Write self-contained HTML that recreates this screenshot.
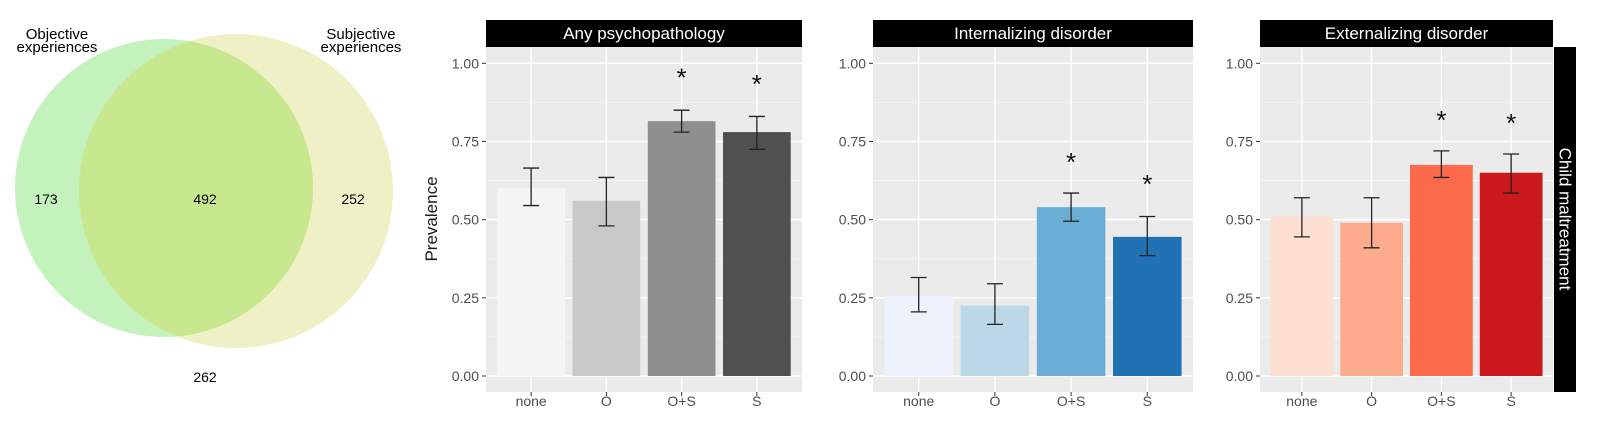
<!DOCTYPE html>
<html><head><meta charset="utf-8"><style>
html,body{margin:0;padding:0;background:#fff;}
svg{display:block;font-family:"Liberation Sans",sans-serif;}
</style></head><body>
<svg id="fig" width="1600" height="437" viewBox="0 0 1600 437">
<g>
  <circle cx="164" cy="188" r="149" fill="#b8f0b0" opacity="0.85"/>
  <circle cx="236" cy="191" r="157" fill="#e6e6a0" opacity="0.6"/>
  <clipPath id="cl"><circle cx="164" cy="188" r="149"/></clipPath>
  <circle cx="236" cy="191" r="157" fill="#c8e890" clip-path="url(#cl)"/>
  <text x="57" y="39" font-size="15" text-anchor="middle">Objective</text>
  <text x="57" y="52" font-size="15" text-anchor="middle">experiences</text>
  <text x="361" y="39" font-size="15" text-anchor="middle">Subjective</text>
  <text x="361" y="52" font-size="15" text-anchor="middle">experiences</text>
  <text x="46" y="204" font-size="14" text-anchor="middle">173</text>
  <text x="205" y="204" font-size="14" text-anchor="middle">492</text>
  <text x="353" y="204" font-size="14" text-anchor="middle">252</text>
  <text x="205" y="382" font-size="14" text-anchor="middle">262</text>
</g>
<g id="panels"></g>
<rect x="1554" y="47" width="22" height="345" fill="#000"/>
<text transform="translate(1565,219) rotate(90)" font-size="17" fill="#fff" text-anchor="middle" dominant-baseline="central">Child maltreatment</text>
<text transform="translate(437,219) rotate(-90)" font-size="17" fill="#1a1a1a" text-anchor="middle">Prevalence</text>
</svg>
<script>
const categories = ["none","O","O+S","S"];
const panelTitles = ["Any psychopathology","Internalizing disorder","Externalizing disorder"];
const anyValues = [0.60,0.56,0.815,0.78];
const anyLow = [0.545,0.48,0.78,0.725];
const anyHigh = [0.665,0.635,0.85,0.83];
const anyStars = [null,null,0.97,0.95];
const intValues = [0.255,0.225,0.54,0.445];
const intLow = [0.205,0.165,0.495,0.385];
const intHigh = [0.315,0.295,0.585,0.51];
const intStars = [null,null,0.70,0.63];
const extValues = [0.51,0.49,0.675,0.65];
const extLow = [0.445,0.41,0.635,0.585];
const extHigh = [0.57,0.57,0.72,0.71];
const extStars = [null,null,0.835,0.825];
const yTicks = [0,0.25,0.5,0.75,1];
const yTickLabels = ["0.00","0.25","0.50","0.75","1.00"];

const NS="http://www.w3.org/2000/svg";
const g=document.getElementById('panels');
function mk(tag,attrs,parent){const e=document.createElementNS(NS,tag);for(const k in attrs)e.setAttribute(k,attrs[k]);(parent||g).appendChild(e);return e;}
const layout=[{x0:486,x1:802,colors:["#f5f5f5","#c9c9c9","#8f8f8f","#505050"]},
{x0:873,x1:1193,colors:["#eef2fd","#bcd8e8","#6aaed6","#2171b5"]},
{x0:1260,x1:1553,colors:["#fee0d2","#fcac8c","#fb6a4a","#cb181d"]}];
const sets=[[anyValues,anyLow,anyHigh,anyStars],[intValues,intLow,intHigh,intStars],[extValues,extLow,extHigh,extStars]];
const yTop=47,yBot=392;
function yS(v){return 376-v*312.7;}
layout.forEach((L,p)=>{
  const pg=mk('g',{});
  
  
  const w=L.x1-L.x0;
  const step=w/(categories.length+0.2);
  function xS(i){return L.x0+step*(0.6+i);}
  const bg=mk('rect',{x:L.x0,y:yTop,width:w,height:yBot-yTop,fill:'#ebebeb'},pg);
  
  
  for(let i=0;i<yTicks.length-1;i++){const m=(yTicks[i]+yTicks[i+1])/2;
    const ml=mk('line',{x1:L.x0,x2:L.x1,y1:yS(m),y2:yS(m),stroke:'#f5f5f5','stroke-width':0.8},pg);
    
    }
  yTicks.forEach((t,i)=>{
    const gl=mk('line',{x1:L.x0,x2:L.x1,y1:yS(t),y2:yS(t),stroke:'#fff','stroke-width':1.5},pg);
    
    
    const tk=mk('line',{x1:L.x0-4,x2:L.x0,y1:yS(t),y2:yS(t),stroke:'#333','stroke-width':1},pg);
    
    
    const tl=mk('text',{x:L.x0-7,y:yS(t)+5,'font-size':14,fill:'#4d4d4d','text-anchor':'end'},pg);
    tl.textContent=yTickLabels[i];
    
    
  });
  const [vals,lo,hi,st]=sets[p];
  categories.forEach((c,i)=>{
    const cx=xS(i);
    const vg=mk('line',{x1:cx,x2:cx,y1:yTop,y2:yBot,stroke:'#fff','stroke-width':1.5},pg);
    
    
  });
  categories.forEach((c,i)=>{
    const cx=xS(i),bw=step*0.9;
    const b=mk('rect',{x:cx-bw/2,y:yS(vals[i]),width:bw,height:yS(0)-yS(vals[i]),fill:L.colors[i]},pg);
    
    
    const e=mk('path',{d:`M${cx-8},${yS(hi[i])}H${cx+8}M${cx},${yS(hi[i])}V${yS(lo[i])}M${cx-8},${yS(lo[i])}H${cx+8}`,stroke:'#222','stroke-width':1.3,fill:'none'},pg);
    
    
    if(st[i]!=null){const s=mk('text',{x:cx,y:yS(st[i])+14,'font-size':26,'text-anchor':'middle',fill:'#111'},pg);
      s.textContent='*';
      
      }
    const xt=mk('line',{x1:cx,x2:cx,y1:yBot,y2:yBot+4,stroke:'#333'},pg);
    
    
    const xl=mk('text',{x:cx,y:yBot+14,'font-size':14,fill:'#4d4d4d','text-anchor':'middle'},pg);
    xl.textContent=c;
    
    
  });
  const sr=mk('rect',{x:L.x0,y:20,width:w,height:27,fill:'#000'},pg);
  
  
  const stt=mk('text',{x:(L.x0+L.x1)/2,y:39,'font-size':17,fill:'#fff','text-anchor':'middle'},pg);
  stt.textContent=panelTitles[p];
  
  
});
</script>
</body></html>
